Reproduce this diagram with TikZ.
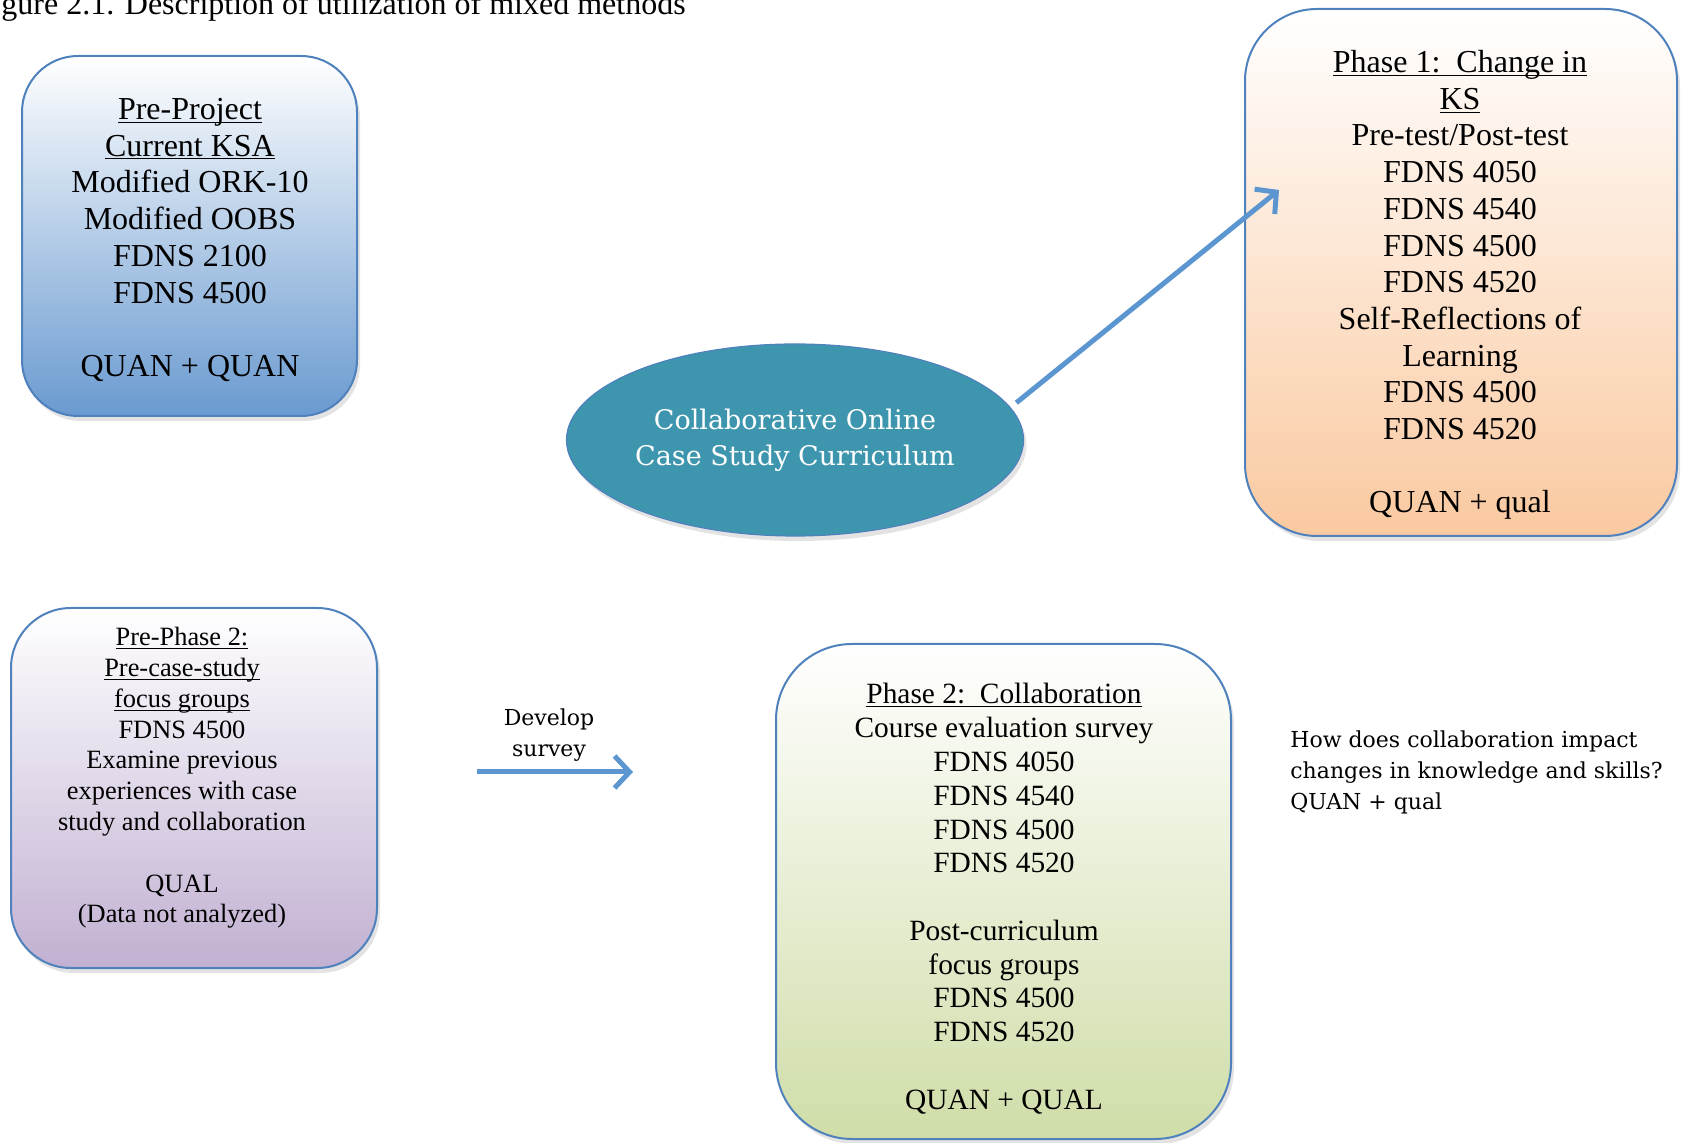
\documentclass[tikz,border=0pt]{standalone}
\usepackage{fontspec}
\setmainfont{Liberation Serif}
\newfontfamily\cambria{DejaVu Serif}
\usetikzlibrary{shapes.geometric,arrows.meta,shadows}

\definecolor{edgeblue}{RGB}{79,129,189}
\definecolor{arrowblue}{RGB}{92,150,208}
\definecolor{tealfill}{RGB}{62,150,174}
\definecolor{ksabot}{RGB}{106,154,208}
\definecolor{ksbot}{RGB}{250,201,160}
\definecolor{prebot}{RGB}{193,176,210}
\definecolor{collabbot}{RGB}{207,221,168}

% underline at a fixed depth, as the word processor draws it
\newcommand\ulin[1]{\leavevmode\setbox0=\hbox{#1}\rlap{\rule[-1.6pt]{\wd0}{0.5pt}}\box0}

\begin{document}
\begin{tikzpicture}[x=0.5pt,y=-0.5pt,
  phasebox/.style={draw=edgeblue,line width=1pt,rounded corners=#1,
    drop shadow={opacity=0.22,shadow xshift=1.5pt,shadow yshift=-2.5pt}},
  boxtext/.style={anchor=north,align=center,inner sep=0pt},
  flowarrow/.style={draw=arrowblue,line width=2.5pt,-{Straight Barb[length=7.5pt,width=16pt]}}]
\path[use as bounding box,fill=white] (0,0) rectangle (1682,1143);

\node[anchor=base west,inner sep=0pt,font=\fontsize{16pt}{18.35pt}\selectfont] (caption) at (1,15) {gure 2.1. Description of utilization of mixed methods};

% pre-project
\node[phasebox=28pt,top color=white,bottom color=ksabot,minimum width=167.5pt,minimum height=180pt] (preproj) at (189.5,236) {};
\node[boxtext,font=\fontsize{16pt}{18.35pt}\selectfont] (preprojtext) at (190,98) {\ulin{Pre-Project}\\\ulin{Current KSA}\\Modified ORK-10\\Modified OOBS\\FDNS 2100\\FDNS 4500\\[18.35pt]QUAN + QUAN};

% phase 1
\node[phasebox=36pt,top color=white,bottom color=ksbot,minimum width=216pt,minimum height=263.5pt] (phaseone) at (1461,272.5) {};
\node[boxtext,font=\fontsize{16pt}{18.35pt}\selectfont] (phaseonetext) at (1460,50) {\ulin{Phase 1:\ \ Change in}\\\ulin{KS}\\Pre-test/Post-test\\FDNS 4050\\FDNS 4540\\FDNS 4500\\FDNS 4520\\Self-Reflections of\\Learning\\FDNS 4500\\FDNS 4520\\[18.35pt]QUAN + qual};

% pre-phase 2
\node[phasebox=30pt,top color=white,bottom color=prebot,minimum width=183pt,minimum height=180pt] (prephase) at (194,788) {};
\node[boxtext,font=\fontsize{13.2pt}{15.4pt}\selectfont] (prephasetext) at (182,627) {\ulin{Pre-Phase 2:}\\\ulin{Pre-case-study}\\\ulin{focus groups}\\FDNS 4500\\Examine previous\\experiences with case\\study and collaboration\\[15.4pt]QUAL\\(Data not analyzed)};

% phase 2
\node[phasebox=38pt,top color=white,bottom color=collabbot,minimum width=227.5pt,minimum height=247.5pt] (phasetwo) at (1003.5,891.5) {};
\node[boxtext,font=\fontsize{14.7pt}{16.9pt}\selectfont] (phasetwotext) at (1004,683) {\ulin{Phase 2:\ \ Collaboration}\\Course evaluation survey\\FDNS 4050\\FDNS 4540\\FDNS 4500\\FDNS 4520\\[16.9pt]Post-curriculum\\focus groups\\FDNS 4500\\FDNS 4520\\[16.9pt]QUAN + QUAL};

% curriculum
\node[ellipse,draw=edgeblue,line width=0.6pt,fill=tealfill,text=white,minimum width=228.5pt,minimum height=96pt,inner sep=0pt,align=center,
  font=\cambria\fontsize{13.5pt}{18.2pt}\selectfont,drop shadow={opacity=0.22,shadow xshift=1.5pt,shadow yshift=-2.5pt}] (curric) at (795,440) {Collaborative Online\\Case Study Curriculum};

\node[anchor=north west,inner sep=0pt,align=left,font=\cambria\fontsize{11pt}{15.5pt}\selectfont] (question) at (1290,730) {How does collaboration impact\\changes in knowledge and skills?\\QUAN + qual};
\node[anchor=north,inner sep=0pt,align=center,font=\cambria\fontsize{11pt}{15.5pt}\selectfont] (devlabel) at (549,708) {Develop\\survey};

\coordinate (devstart) at (477,772);
\coordinate (devend) at (633,772);
\coordinate (kstip) at (1279,190);
\draw[flowarrow] (devstart) -- (devend);
\draw[flowarrow] ([xshift=5pt]curric.10) -- (kstip);
\end{tikzpicture}
\end{document}
